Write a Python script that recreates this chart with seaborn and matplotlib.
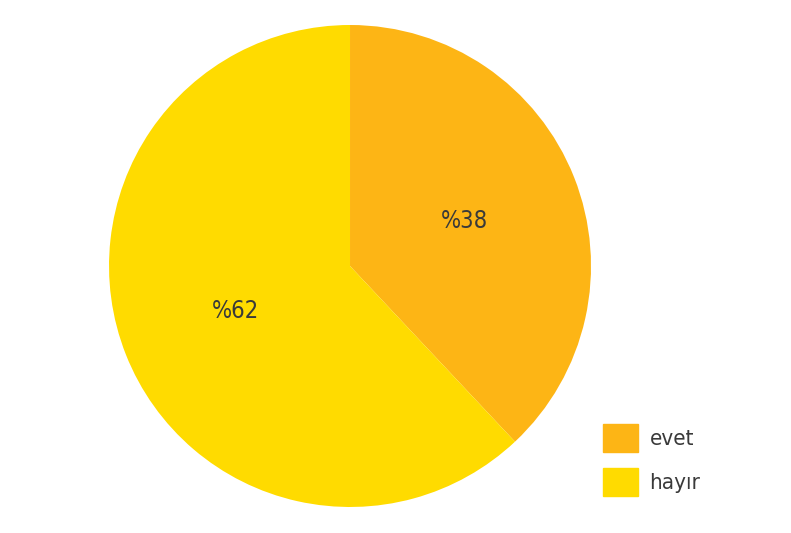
import matplotlib
matplotlib.use('Agg')
import matplotlib.pyplot as plt
import matplotlib.patches as mpatches
import seaborn as sns

# veriler
etiketler = ['evet', 'hayır']
degerler = [38, 62]
renkler = ['#FDB515', '#FFDB00']

sns.set_style('white')
plt.rcParams['font.family'] = ['DejaVu Sans']
plt.rcParams['font.stretch'] = 'condensed'

fig = plt.figure(figsize=(7.91, 5.33), dpi=100)
ax = fig.add_axes([0.1378, 0.0488, 0.6094, 0.9043])

wedges, texts, autotexts = ax.pie(
    degerler,
    colors=renkler,
    startangle=90,
    counterclock=False,
    autopct=lambda p: '%' + str(int(round(p))),
    pctdistance=0.51,
    wedgeprops={'linewidth': 0},
    textprops={'fontsize': 17, 'color': '#3a3a3a', 'stretch': 'condensed'},
)
ax.set_xlim(-1, 1)
ax.set_ylim(-1, 1)
ax.set_aspect('equal')

handles = [mpatches.Patch(color=c, label=l) for c, l in zip(renkler, etiketler)]
fig.legend(
    handles=handles,
    loc='upper left',
    bbox_to_anchor=(0.762, 0.205),
    frameon=False,
    prop={'size': 16, 'stretch': 'condensed'},
    handlelength=1.6,
    handleheight=1.6,
    labelspacing=0.7,
    borderpad=0,
    borderaxespad=0,
    handletextpad=0.5,
    labelcolor='#3a3a3a',
)

fig.savefig('out.png', dpi=100, facecolor='white')
